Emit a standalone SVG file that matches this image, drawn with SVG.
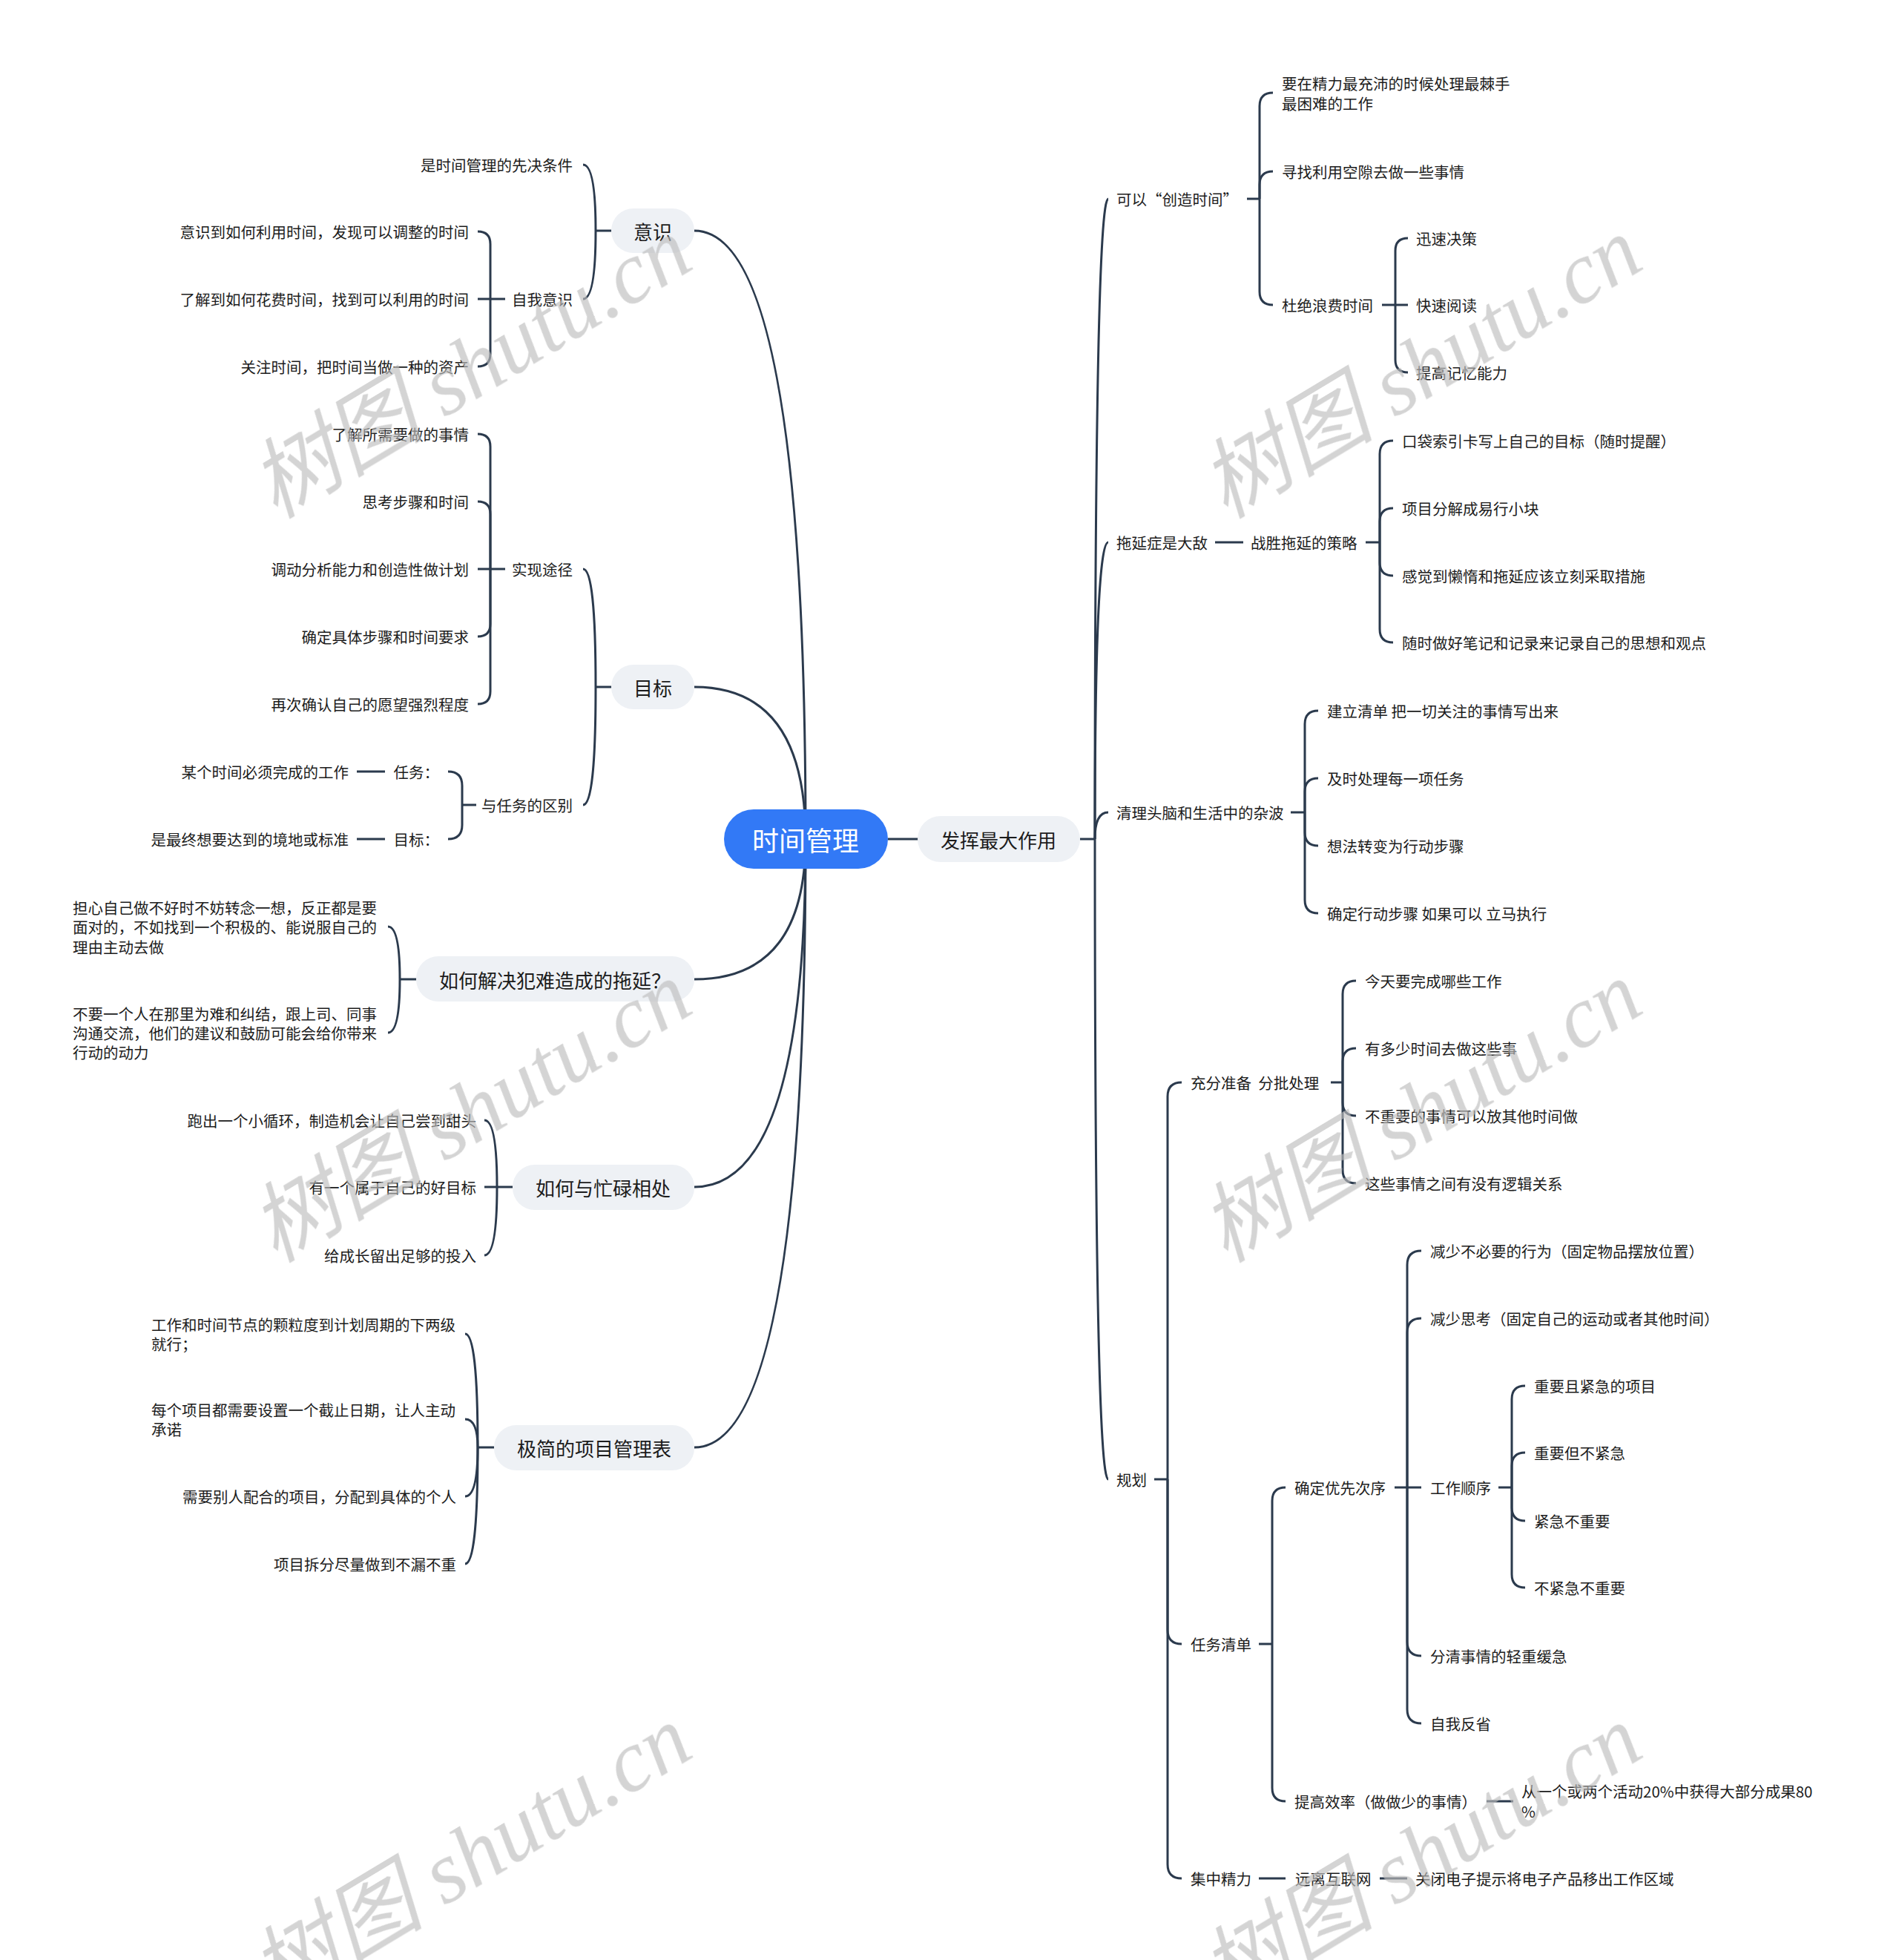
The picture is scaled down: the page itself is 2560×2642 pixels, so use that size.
<svg xmlns="http://www.w3.org/2000/svg" width="2560" height="2642" viewBox="0 0 2560 2642">
<style>
.t{font-family:'Noto Sans CJK SC','Noto Sans',sans-serif;font-size:20.5px;fill:#1c1c1c;dominant-baseline:central}
.e{text-anchor:end}
.tp{font-size:26px;text-anchor:middle}
.box{fill:#EEF1F5}
.ln{fill:none;stroke:#2B3A4D;stroke-width:3}
.wm{font-family:'Liberation Serif','Noto Sans CJK SC',serif;font-style:italic;font-size:118px;fill:#bdbdbd;opacity:.65}
</style>
<rect width="2560" height="2642" fill="#ffffff"/>
<g id="connectors" class="ln">
<path d="M936,311 Q1086,311 1086,1131"/>
<path d="M936,926 Q1086,926 1086,1131"/>
<path d="M936,1320 Q1086,1320 1086,1131"/>
<path d="M936,1600 Q1086,1600 1086,1131"/>
<path d="M936,1951 Q1086,1951 1086,1131"/>
<path d="M1197,1131 H1239"/>
<path d="M1456,1131 H1476"/>
<path d="M1476,1131 Q1476,268 1494,268"/>
<path d="M1476,1131 Q1476,731 1494,731"/>
<path d="M1476,1131 Q1476,1095 1494,1095"/>
<path d="M1476,1131 Q1476,1994 1494,1994"/>
<path d="M824,311 H803"/>
<path d="M803,311 Q803,222 786,222"/>
<path d="M803,311 Q803,403 786,403"/>
<path d="M681,403 H661"/>
<path d="M661,403 V329 Q661,312 644,312"/>
<path d="M661,403 H644"/>
<path d="M661,403 V477 Q661,494 644,494"/>
<path d="M824,926 H803"/>
<path d="M803,926 Q803,767 786,767"/>
<path d="M803,926 Q803,1085 786,1085"/>
<path d="M681,767 H661"/>
<path d="M661,767 V602 Q661,585 644,585"/>
<path d="M661,767 V693 Q661,676 644,676"/>
<path d="M661,767 H644"/>
<path d="M661,767 V841 Q661,858 644,858"/>
<path d="M661,767 V932 Q661,949 644,949"/>
<path d="M642,1085 H623"/>
<path d="M623,1085 V1059 Q623,1040 604,1040"/>
<path d="M623,1085 V1112 Q623,1131 604,1131"/>
<path d="M519,1040 H481"/>
<path d="M519,1131 H481"/>
<path d="M561,1320 H539"/>
<path d="M539,1320 Q539,1249 523,1249"/>
<path d="M539,1320 Q539,1392 523,1392"/>
<path d="M691,1600 H670"/>
<path d="M670,1600 Q670,1510 653,1510"/>
<path d="M670,1600 H653"/>
<path d="M670,1600 Q670,1692 653,1692"/>
<path d="M666,1951 H644"/>
<path d="M644,1951 Q644,1798 627,1798"/>
<path d="M644,1951 Q644,1913 627,1913"/>
<path d="M644,1951 Q644,2017 627,2017"/>
<path d="M644,1951 Q644,2108 627,2108"/>
<path d="M1681,268 H1698"/>
<path d="M1698,268 V143 Q1698,125 1716,125"/>
<path d="M1698,268 V249 Q1698,231 1716,231"/>
<path d="M1698,268 V393 Q1698,411 1716,411"/>
<path d="M1863,411 H1881"/>
<path d="M1881,411 V338 Q1881,321 1898,321"/>
<path d="M1881,411 H1898"/>
<path d="M1881,411 V485 Q1881,502 1898,502"/>
<path d="M1638,731 H1676"/>
<path d="M1841,731 H1860"/>
<path d="M1860,731 V612 Q1860,594 1878,594"/>
<path d="M1860,731 V703 Q1860,685 1878,685"/>
<path d="M1860,731 V758 Q1860,776 1878,776"/>
<path d="M1860,731 V848 Q1860,866 1878,866"/>
<path d="M1740,1095 H1759"/>
<path d="M1759,1095 V976 Q1759,958 1777,958"/>
<path d="M1759,1095 V1067 Q1759,1049 1777,1049"/>
<path d="M1759,1095 V1122 Q1759,1140 1777,1140"/>
<path d="M1759,1095 V1213 Q1759,1231 1777,1231"/>
<path d="M1556,1994 H1574"/>
<path d="M1574,1994 V1478 Q1574,1459 1593,1459"/>
<path d="M1574,1994 V2197 Q1574,2216 1593,2216"/>
<path d="M1574,1994 V2513 Q1574,2532 1593,2532"/>
<path d="M1794,1459 H1810"/>
<path d="M1810,1459 V1340 Q1810,1322 1828,1322"/>
<path d="M1810,1459 V1431 Q1810,1413 1828,1413"/>
<path d="M1810,1459 V1486 Q1810,1504 1828,1504"/>
<path d="M1810,1459 V1577 Q1810,1595 1828,1595"/>
<path d="M1697,2216 H1715"/>
<path d="M1715,2216 V2023 Q1715,2005 1733,2005"/>
<path d="M1715,2216 V2410 Q1715,2428 1733,2428"/>
<path d="M1880,2005 H1897"/>
<path d="M1897,2005 V1705 Q1897,1686 1916,1686"/>
<path d="M1897,2005 V1796 Q1897,1777 1916,1777"/>
<path d="M1897,2005 H1916"/>
<path d="M1897,2005 V2213 Q1897,2232 1916,2232"/>
<path d="M1897,2005 V2304 Q1897,2323 1916,2323"/>
<path d="M2020,2005 H2038"/>
<path d="M2038,2005 V1886 Q2038,1868 2056,1868"/>
<path d="M2038,2005 V1976 Q2038,1958 2056,1958"/>
<path d="M2038,2005 V2032 Q2038,2050 2056,2050"/>
<path d="M2038,2005 V2122 Q2038,2140 2056,2140"/>
<path d="M2004,2428 H2040"/>
<path d="M1697,2532 H1733"/>
<path d="M1860,2532 H1897"/>
</g>
<g id="root"><rect x="976" y="1091" width="221" height="80" rx="40" fill="#3279F6"/><text class="t" x="1086" y="1131" style="font-size:36px;text-anchor:middle;fill:#fff">时间管理</text></g>
<g id="n-fahui"><rect class="box" x="1237" y="1100" width="219" height="62" rx="31"/><text class="t tp" x="1346" y="1131">发挥最大作用</text></g>
<g id="n-yishi"><rect class="box" x="824" y="281" width="112" height="60" rx="30"/><text class="t tp" x="880" y="311">意识</text></g>
<g id="n-mubiao"><rect class="box" x="824" y="896" width="112" height="60" rx="30"/><text class="t tp" x="880" y="926">目标</text></g>
<g id="n-tuoyan"><rect class="box" x="561" y="1289" width="375" height="61" rx="30"/><text class="t tp" x="748" y="1320">如何解决犯难造成的拖延？</text></g>
<g id="n-manglu"><rect class="box" x="691" y="1570" width="245" height="61" rx="30"/><text class="t tp" x="813" y="1600">如何与忙碌相处</text></g>
<g id="n-jijian"><rect class="box" x="666" y="1921" width="270" height="61" rx="30"/><text class="t tp" x="801" y="1951">极简的项目管理表</text></g>
<g id="n-l1"><text class="t e" x="772" y="222">是时间管理的先决条件</text></g>
<g id="n-l2"><text class="t e" x="772" y="403">自我意识</text></g>
<g id="n-l3"><text class="t e" x="632" y="312">意识到如何利用时间，发现可以调整的时间</text></g>
<g id="n-l4"><text class="t e" x="632" y="403">了解到如何花费时间，找到可以利用的时间</text></g>
<g id="n-l5"><text class="t e" x="632" y="494">关注时间，把时间当做一种的资产</text></g>
<g id="n-l6"><text class="t e" x="772" y="767">实现途径</text></g>
<g id="n-l7"><text class="t e" x="772" y="1085">与任务的区别</text></g>
<g id="n-l8"><text class="t e" x="632" y="585">了解所需要做的事情</text></g>
<g id="n-l9"><text class="t e" x="632" y="676">思考步骤和时间</text></g>
<g id="n-l10"><text class="t e" x="632" y="767">调动分析能力和创造性做计划</text></g>
<g id="n-l11"><text class="t e" x="632" y="858">确定具体步骤和时间要求</text></g>
<g id="n-l12"><text class="t e" x="632" y="949">再次确认自己的愿望强烈程度</text></g>
<g id="n-l13"><text class="t e" x="592" y="1040">任务：</text></g>
<g id="n-l14"><text class="t e" x="592" y="1131">目标：</text></g>
<g id="n-l15"><text class="t e" x="470" y="1040">某个时间必须完成的工作</text></g>
<g id="n-l16"><text class="t e" x="470" y="1131">是最终想要达到的境地或标准</text></g>
<g id="n-l17"><text class="t" x="98"><tspan x="98" y="1223">担心自己做不好时不妨转念一想，反正都是要</tspan><tspan x="98" y="1249">面对的，不如找到一个积极的、能说服自己的</tspan><tspan x="98" y="1276">理由主动去做</tspan></text></g>
<g id="n-l18"><text class="t" x="98"><tspan x="98" y="1366">不要一个人在那里为难和纠结，跟上司、同事</tspan><tspan x="98" y="1392">沟通交流，他们的建议和鼓励可能会给你带来</tspan><tspan x="98" y="1418">行动的动力</tspan></text></g>
<g id="n-l19"><text class="t e" x="642" y="1510">跑出一个小循环，制造机会让自己尝到甜头</text></g>
<g id="n-l20"><text class="t e" x="642" y="1600">有一个属于自己的好目标</text></g>
<g id="n-l21"><text class="t e" x="642" y="1692">给成长留出足够的投入</text></g>
<g id="n-l22"><text class="t" x="204"><tspan x="204" y="1785">工作和时间节点的颗粒度到计划周期的下两级</tspan><tspan x="204" y="1811">就行；</tspan></text></g>
<g id="n-l23"><text class="t" x="204"><tspan x="204" y="1900">每个项目都需要设置一个截止日期，让人主动</tspan><tspan x="204" y="1926">承诺</tspan></text></g>
<g id="n-l24"><text class="t e" x="615" y="2017">需要别人配合的项目，分配到具体的个人</text></g>
<g id="n-l25"><text class="t e" x="615" y="2108">项目拆分尽量做到不漏不重</text></g>
<g id="n-r1"><text class="t" x="1505" y="268">可以“创造时间”</text></g>
<g id="n-r2"><text class="t" x="1728"><tspan x="1728" y="112">要在精力最充沛的时候处理最棘手</tspan><tspan x="1728" y="139">最困难的工作</tspan></text></g>
<g id="n-r3"><text class="t" x="1728" y="231">寻找利用空隙去做一些事情</text></g>
<g id="n-r4"><text class="t" x="1728" y="411">杜绝浪费时间</text></g>
<g id="n-r5"><text class="t" x="1909" y="321">迅速决策</text></g>
<g id="n-r6"><text class="t" x="1909" y="411">快速阅读</text></g>
<g id="n-r7"><text class="t" x="1909" y="502">提高记忆能力</text></g>
<g id="n-r8"><text class="t" x="1505" y="731">拖延症是大敌</text></g>
<g id="n-r9"><text class="t" x="1686" y="731">战胜拖延的策略</text></g>
<g id="n-r10"><text class="t" x="1890" y="594">口袋索引卡写上自己的目标（随时提醒）</text></g>
<g id="n-r11"><text class="t" x="1890" y="685">项目分解成易行小块</text></g>
<g id="n-r12"><text class="t" x="1890" y="776">感觉到懒惰和拖延应该立刻采取措施</text></g>
<g id="n-r13"><text class="t" x="1890" y="866">随时做好笔记和记录来记录自己的思想和观点</text></g>
<g id="n-r14"><text class="t" x="1505" y="1095">清理头脑和生活中的杂波</text></g>
<g id="n-r15"><text class="t" x="1789" y="958">建立清单 把一切关注的事情写出来</text></g>
<g id="n-r16"><text class="t" x="1789" y="1049">及时处理每一项任务</text></g>
<g id="n-r17"><text class="t" x="1789" y="1140">想法转变为行动步骤</text></g>
<g id="n-r18"><text class="t" x="1789" y="1231">确定行动步骤 如果可以 立马执行</text></g>
<g id="n-r19"><text class="t" x="1505" y="1994">规划</text></g>
<g id="n-r20"><text class="t" x="1605" y="1459" xml:space="preserve">充分准备  分批处理</text></g>
<g id="n-r21"><text class="t" x="1840" y="1322">今天要完成哪些工作</text></g>
<g id="n-r22"><text class="t" x="1840" y="1413">有多少时间去做这些事</text></g>
<g id="n-r23"><text class="t" x="1840" y="1504">不重要的事情可以放其他时间做</text></g>
<g id="n-r24"><text class="t" x="1840" y="1595">这些事情之间有没有逻辑关系</text></g>
<g id="n-r25"><text class="t" x="1605" y="2216">任务清单</text></g>
<g id="n-r26"><text class="t" x="1745" y="2005">确定优先次序</text></g>
<g id="n-r27"><text class="t" x="1928" y="1686">减少不必要的行为（固定物品摆放位置）</text></g>
<g id="n-r28"><text class="t" x="1928" y="1777">减少思考（固定自己的运动或者其他时间）</text></g>
<g id="n-r29"><text class="t" x="1928" y="2005">工作顺序</text></g>
<g id="n-r30"><text class="t" x="2068" y="1868">重要且紧急的项目</text></g>
<g id="n-r31"><text class="t" x="2068" y="1958">重要但不紧急</text></g>
<g id="n-r32"><text class="t" x="2068" y="2050">紧急不重要</text></g>
<g id="n-r33"><text class="t" x="2068" y="2140">不紧急不重要</text></g>
<g id="n-r34"><text class="t" x="1928" y="2232">分清事情的轻重缓急</text></g>
<g id="n-r35"><text class="t" x="1928" y="2323">自我反省</text></g>
<g id="n-r36"><text class="t" x="1745" y="2428">提高效率（做做少的事情）</text></g>
<g id="n-r37"><text class="t" x="2051"><tspan x="2051" y="2414">从一个或两个活动20%中获得大部分成果80</tspan><tspan x="2051" y="2441">%</tspan></text></g>
<g id="n-r38"><text class="t" x="1605" y="2532">集中精力</text></g>
<g id="n-r39"><text class="t" x="1746" y="2532">远离互联网</text></g>
<g id="n-r40"><text class="t" x="1908" y="2532">关闭电子提示将电子产品移出工作区域</text></g>
<g id="watermarks" class="wm" text-anchor="middle">
<text transform="translate(655,530) rotate(-31)">树图 shutu.cn</text>
<text transform="translate(1936,530) rotate(-31)">树图 shutu.cn</text>
<text transform="translate(655,1533) rotate(-31)">树图 shutu.cn</text>
<text transform="translate(1936,1533) rotate(-31)">树图 shutu.cn</text>
<text transform="translate(655,2536) rotate(-31)">树图 shutu.cn</text>
<text transform="translate(1936,2536) rotate(-31)">树图 shutu.cn</text>
</g>
</svg>
